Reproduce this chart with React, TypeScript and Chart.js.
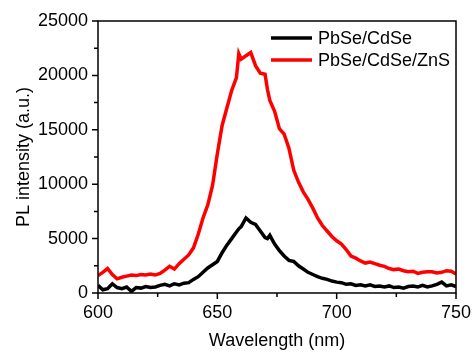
import { useEffect, useRef } from 'react';
import { Chart, registerables } from 'chart.js';

Chart.register(...registerables);

const wavelengths = [
  600, 602, 604, 606, 608, 610, 612, 614, 616, 618, 620, 622, 624, 626, 628, 630, 632, 634, 636, 638,
  640, 642, 644, 646, 648, 650, 652, 654, 656, 658, 659, 660, 662, 664, 666, 668, 670, 671, 672, 674,
  676, 678, 680, 682, 684, 686, 688, 690, 692, 694, 696, 698, 700, 702, 704, 706, 708, 710, 712, 714,
  716, 718, 720, 722, 724, 726, 728, 730, 732, 734, 736, 738, 740, 742, 744, 746, 748, 750,
];

const pbseCdse = [
  700, 300, 400, 850, 500, 400, 550, 150, 500, 450, 600, 500, 550, 700, 800, 650, 850, 750, 900, 950,
  1250, 1500, 1900, 2300, 2600, 2900, 3700, 4400, 5000, 5600, 5900, 6100, 6900, 6500, 6300, 5700, 5100, 5000, 5300, 4500,
  3900, 3400, 3000, 2900, 2500, 2200, 1900, 1700, 1500, 1350, 1250, 1100, 1000, 950, 800, 850, 700, 750, 650, 750,
  600, 650, 550, 650, 500, 550, 450, 600, 650, 550, 700, 550, 650, 800, 1000, 650, 750, 600,
];

const pbseCdseZns = [
  1600, 1900, 2250, 1700, 1300, 1450, 1550, 1650, 1600, 1700, 1650, 1750, 1650, 1800, 2100, 2450, 2200, 2700, 3100, 3500,
  4150, 5400, 6900, 8100, 9900, 12800, 15400, 17000, 18600, 19800, 22000, 21500, 21800, 22100, 20900, 20200, 20100, 18700, 17700, 16700,
  15100, 14600, 13300, 11300, 10200, 9300, 8600, 7800, 6900, 6200, 5700, 5200, 4800, 4500, 4000, 3400, 3200, 2950, 2750, 2850,
  2700, 2550, 2450, 2250, 2150, 2200, 2050, 1950, 2000, 1800, 1900, 1950, 1950, 1850, 1900, 2050, 2000, 1750,
];

const xMajorTicks = [600, 650, 700, 750];
const xMinorTicks = [625, 675, 725];
const yMajorTicks = [0, 5000, 10000, 15000, 20000, 25000];
const yMinorTicks = [2500, 7500, 12500, 17500, 22500];

const FONT = '"Liberation Sans", Arial, sans-serif';

const framePlugin = {
  id: 'frameAndTicks',
  afterDatasetsDraw(chart: any) {
    const { ctx, chartArea } = chart;
    const { left, right, top, bottom } = chartArea;
    const x = chart.scales.x;
    const y = chart.scales.y;
    ctx.save();
    ctx.strokeStyle = '#000';
    ctx.lineWidth = 1.5;
    ctx.strokeRect(left, top, right - left, bottom - top);
    ctx.beginPath();
    for (const v of xMajorTicks) {
      const p = x.getPixelForValue(v);
      ctx.moveTo(p, bottom);
      ctx.lineTo(p, bottom + 6);
    }
    for (const v of xMinorTicks) {
      const p = x.getPixelForValue(v);
      ctx.moveTo(p, bottom);
      ctx.lineTo(p, bottom + 4);
    }
    for (const v of yMajorTicks) {
      const p = y.getPixelForValue(v);
      ctx.moveTo(left, p);
      ctx.lineTo(left - 6, p);
    }
    for (const v of yMinorTicks) {
      const p = y.getPixelForValue(v);
      ctx.moveTo(left, p);
      ctx.lineTo(left - 4, p);
    }
    ctx.stroke();

    // legend inside the plot area
    const datasets = chart.data.datasets;
    ctx.font = `18px ${FONT}`;
    ctx.textBaseline = 'middle';
    ctx.textAlign = 'left';
    datasets.forEach((ds: any, i: number) => {
      const ly = 38 + i * 22;
      ctx.beginPath();
      ctx.strokeStyle = ds.borderColor;
      ctx.lineWidth = 3.5;
      ctx.moveTo(271, ly);
      ctx.lineTo(312, ly);
      ctx.stroke();
      ctx.fillStyle = '#000';
      ctx.fillText(ds.label, 318, ly + 1);
    });
    ctx.restore();
  },
};

export default function App() {
  const ref = useRef<HTMLCanvasElement>(null);

  useEffect(() => {
    if (!ref.current) return;
    const chart = new Chart(ref.current, {
      type: 'line',
      data: {
        datasets: [
          {
            label: 'PbSe/CdSe',
            data: wavelengths.map((w, i) => ({ x: w, y: pbseCdse[i] })),
            borderColor: '#000000',
            borderWidth: 3.5,
            pointRadius: 0,
            tension: 0,
          },
          {
            label: 'PbSe/CdSe/ZnS',
            data: wavelengths.map((w, i) => ({ x: w, y: pbseCdseZns[i] })),
            borderColor: '#ff0000',
            borderWidth: 3.5,
            pointRadius: 0,
            tension: 0,
          },
        ],
      },
      options: {
        animation: false,
        responsive: false,
        layout: { padding: { top: 21, right: 17, left: 0, bottom: 0 } },
        plugins: { legend: { display: false }, tooltip: { enabled: false } },
        scales: {
          x: {
            type: 'linear',
            min: 600,
            max: 750,
            afterBuildTicks: (s: any) => {
              s.ticks = xMajorTicks.map((v) => ({ value: v }));
            },
            grid: { display: false, drawTicks: false },
            border: { display: false },
            ticks: {
              padding: 9,
              color: '#000',
              font: { family: FONT, size: 18 },
              callback: (v: any) => String(v),
            },
            title: {
              display: true,
              text: 'Wavelength (nm)',
              color: '#000',
              font: { family: FONT, size: 18 },
              padding: { top: 0, bottom: 0 },
            },
            afterFit: (s: any) => {
              s.height = 59;
              s.paddingLeft = 0;
              s.paddingRight = 0;
            },
          },
          y: {
            type: 'linear',
            min: 0,
            max: 25000,
            afterBuildTicks: (s: any) => {
              s.ticks = yMajorTicks.map((v) => ({ value: v }));
            },
            grid: { display: false, drawTicks: false },
            border: { display: false },
            ticks: {
              padding: 10,
              color: '#000',
              font: { family: FONT, size: 18 },
              callback: (v: any) => String(v),
            },
            title: {
              display: true,
              text: 'PL intensity (a.u.)',
              color: '#000',
              font: { family: FONT, size: 18 },
              padding: { top: 13, bottom: 0 },
            },
            afterFit: (s: any) => {
              s.width = 98;
              s.paddingTop = 0;
              s.paddingBottom = 0;
            },
          },
        },
      },
      plugins: [framePlugin],
    });
    return () => chart.destroy();
  }, []);

  return (
    <div style={{ position: 'fixed', left: 0, top: 0, width: 473, height: 352, background: '#fff' }}>
      <canvas ref={ref} width={473} height={352} />
    </div>
  );
}
